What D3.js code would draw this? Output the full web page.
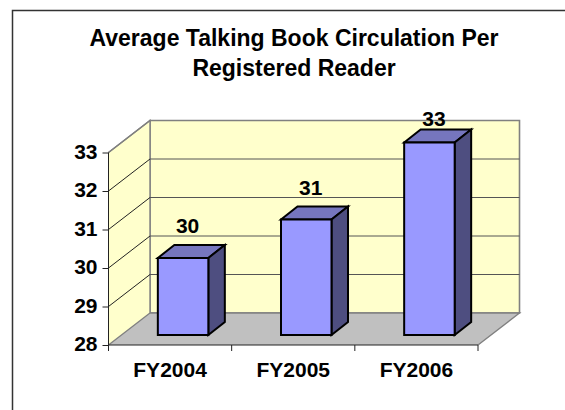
<!DOCTYPE html>
<html><head><meta charset="utf-8">
<script src="https://cdn.jsdelivr.net/npm/d3@7"></script>
<style>html,body{margin:0;padding:0;background:#fff}svg{display:block}text{font-family:"Liberation Sans",Arial,sans-serif;font-weight:700;fill:#000}</style>
</head><body><script>
const categories=["FY2004","FY2005","FY2006"];
const values=[30,31,33];
const labels=["30","31","33"];
const yTicks=[28,29,30,31,32,33];
const titleLines=["Average Talking Book Circulation Per","Registered Reader"];

const svg=d3.select("body").append("svg").attr("width",565).attr("height",410);
svg.append("path").attr("d","M12.5,410V10.5H565").attr("fill","none").attr("stroke","#333").attr("stroke-width",1.5);

const y=d3.scaleLinear().domain([28,33]).range([345,152.5]);
const x=d3.scaleBand().domain(categories).range([108.5,478]).paddingInner(0.59).paddingOuter(0.295);
const dx=41.5, dy=-32;
const bdx=16.5, bdy=-13, fx=13, fz=-10;
const x0=x.range()[0], x1=x.range()[1];
const poly=(pts,fill,stroke,sw)=>svg.append("polygon").attr("points",pts.map(p=>p.join(",")).join(" ")).attr("fill",fill).attr("stroke",stroke||"none").attr("stroke-width",sw||0).attr("stroke-linejoin","miter");

poly([[x0+dx,y(33)+dy],[x1+dx,y(33)+dy],[x1+dx,y(28)+dy],[x0+dx,y(28)+dy]],"#FFFFCC","#808080",1.6);
poly([[x0,y(33)],[x0+dx,y(33)+dy],[x0+dx,y(28)+dy],[x0,y(28)]],"#FFFFCC");
poly([[x0,y(28)],[x0+dx,y(28)+dy],[x1+dx,y(28)+dy],[x1,y(28)]],"#C0C0C0");
svg.append("path").attr("d",`M${x0},${y(33)}L${x0+dx},${y(33)+dy}V${y(28)+dy}L${x0},${y(28)}M${x0+dx},${y(28)+dy}H${x1+dx}L${x1},${y(28)}`).attr("fill","none").attr("stroke","#808080").attr("stroke-width",1.4);

yTicks.slice(1,-1).forEach(t=>{
  svg.append("line").attr("x1",x0+dx).attr("x2",x1+dx).attr("y1",y(t)+dy).attr("y2",y(t)+dy).attr("stroke","#555").attr("stroke-width",1);
  svg.append("line").attr("x1",x0).attr("x2",x0+dx).attr("y1",y(t)).attr("y2",y(t)+dy).attr("stroke","#222").attr("stroke-width",1);
});
svg.append("line").attr("x1",x0).attr("x2",x0+dx).attr("y1",y(33)).attr("y2",y(33)+dy).attr("stroke","#808080").attr("stroke-width",1.4);

categories.forEach((c,i)=>{
  const a=x(c)+fx, w=x.bandwidth(), base=y(28)+fz, top=y(values[i])+fz;
  poly([[a,top],[a+bdx,top+bdy],[a+w+bdx,top+bdy],[a+w,top]],"#7676BE","#000",2);
  poly([[a+w,top],[a+w+bdx,top+bdy],[a+w+bdx,base+bdy],[a+w,base]],"#4E4E80","#000",2);
  poly([[a,top],[a+w,top],[a+w,base],[a,base]],"#9999FF","#000",2);
  svg.append("text").attr("x",a+w/2+4.5).attr("y",Math.max(top+bdy-12,126)).attr("text-anchor","middle").attr("font-size",21).text(labels[i]);
});

const ya=svg.append("g").attr("transform",`translate(${x0},0)`).call(d3.axisLeft(y).tickValues(yTicks).tickSize(6).tickPadding(5).tickFormat(d3.format("d")));
ya.select(".domain").attr("stroke","#222").attr("d",`M0,${y(33)}V${y(28)}`);
ya.selectAll("line").attr("stroke","#222");
ya.selectAll("text").attr("font-size",21).attr("dy","0.28em").style("font-family",'"Liberation Sans",Arial,sans-serif').style("font-weight",700);

const xa=svg.append("g").attr("transform",`translate(0,${y(28)})`);
xa.append("line").attr("x1",x0).attr("x2",x1).attr("stroke","#222");
const step=x.step();
d3.range(categories.length+1).forEach(i=>xa.append("line").attr("x1",x0+i*step).attr("x2",x0+i*step).attr("y2",6).attr("stroke","#222"));
categories.forEach((c,i)=>xa.append("text").attr("x",x(c)+x.bandwidth()/2).attr("y",31.5).attr("text-anchor","middle").attr("font-size",21).text(c));

svg.selectAll("text.t").data(titleLines).join("text").attr("class","t").attr("x",294).attr("y",(d,i)=>45.5+i*30).attr("text-anchor","middle").attr("font-size",23).text(d=>d);
</script></body></html>
